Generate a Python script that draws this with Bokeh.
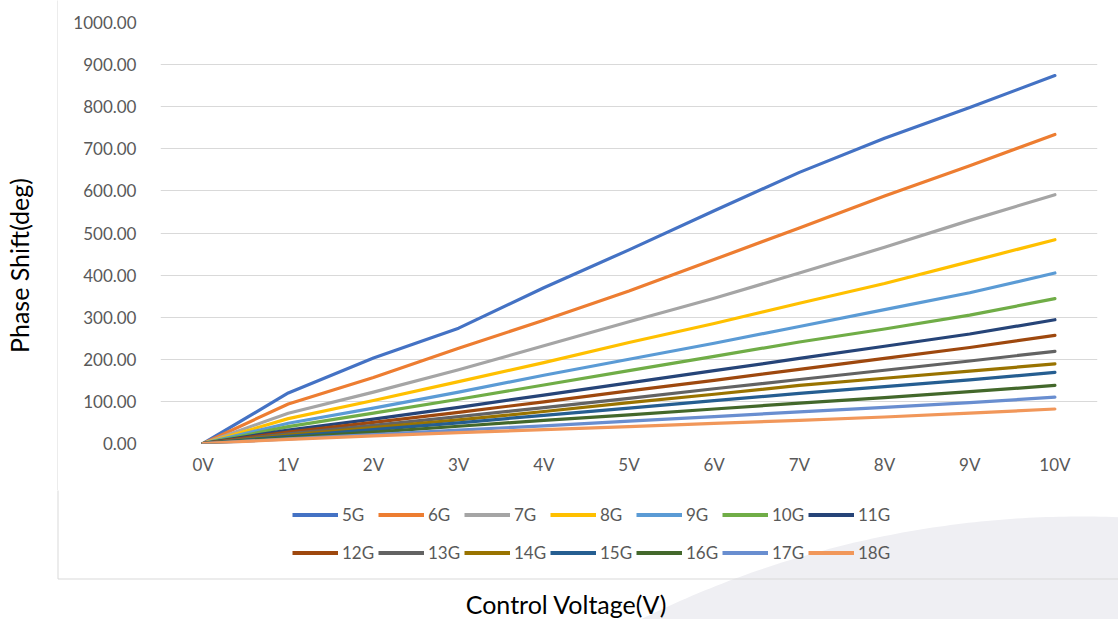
import math
from bokeh.plotting import figure
from bokeh.layouts import row, column
from bokeh.models import (Legend, LegendItem, FactorRange, Range1d, Label,
                          NumeralTickFormatter, FixedTicker)
from bokeh.embed import file_html
from bokeh.resources import INLINE

# ---------------- data ----------------
voltages = ["0V", "1V", "2V", "3V", "4V", "5V", "6V", "7V", "8V", "9V", "10V"]
y_ticks = [0, 100, 200, 300, 400, 500, 600, 700, 800, 900, 1000]
series_names = ["5G", "6G", "7G", "8G", "9G", "10G", "11G",
                "12G", "13G", "14G", "15G", "16G", "17G", "18G"]

values_5G = [0, 120, 203, 274, 370, 460, 553, 644, 725, 798, 874]
values_6G = [0, 94, 157, 226, 293, 362, 437, 512, 588, 660, 734]
values_7G = [0, 72, 122, 175, 232, 289, 345, 405, 466, 530, 591]
values_8G = [0, 59, 102, 147, 192, 240, 285, 333, 380, 432, 484]
values_9G = [0, 48, 84, 122, 162, 200, 238, 278, 318, 358, 405]
values_10G = [0, 40, 72, 105, 139, 173, 207, 241, 272, 305, 344]
values_11G = [0, 32, 58, 86, 115, 144, 173, 202, 231, 260, 294]
values_12G = [0, 27, 50, 74, 99, 125, 150, 176, 202, 228, 257]
values_13G = [0, 23, 43, 64, 85, 107, 130, 152, 174, 196, 219]
values_14G = [0, 20, 38, 56, 76, 97, 117, 138, 155, 172, 189]
values_15G = [0, 17, 33, 49, 67, 84, 102, 119, 135, 151, 169]
values_16G = [0, 14, 27, 41, 55, 68, 82, 96, 109, 123, 138]
values_17G = [0, 11, 21, 32, 42, 53, 64, 75, 86, 97, 110]
values_18G = [0, 10, 18, 26, 33, 40, 48, 55, 63, 72, 82]

series_values = [values_5G, values_6G, values_7G, values_8G, values_9G, values_10G, values_11G,
                 values_12G, values_13G, values_14G, values_15G, values_16G, values_17G, values_18G]
colors = ["#4472C4", "#ED7D31", "#A5A5A5", "#FFC000", "#5B9BD5", "#70AD47", "#264478",
          "#9E480E", "#636363", "#997300", "#255E91", "#43682B", "#698ED0", "#F1975A"]

x_title = "Control Voltage(V)"
y_title = "Phase Shift(deg)"

FONT = "Lato"
GRID = "#D9D9D9"
TOP_H = 490      # height of the upper row (y title strip + plot)
BOT_H = 129      # height of the bottom strip (legend + x title)
PAGE_H = TOP_H + BOT_H

# ---------------- left strip: y title and chart-area border ----------------
# bottom-up pixel coordinates inside the strip
left_fig = figure(width=58, height=TOP_H, x_range=Range1d(0, 58), y_range=Range1d(0, TOP_H),
                  x_axis_type=None, y_axis_type=None,
                  output_backend="svg", toolbar_location=None,
                  min_border_left=0, min_border_right=0, min_border_top=0, min_border_bottom=0)
left_fig.outline_line_color = None
left_fig.grid.visible = False
left_fig.segment(x0=[57.5], y0=[-2], x1=[57.5], y1=[TOP_H + 2], line_color=GRID, line_width=1)
left_fig.add_layout(Label(x=18, y=TOP_H - 265, text=y_title, angle=math.pi / 2,
                          text_align="center", text_baseline="middle",
                          text_font=FONT, text_font_size="25px", text_color="#000000"))

# ---------------- main plot ----------------
p = figure(width=1060, height=TOP_H,
           x_range=FactorRange(*voltages, range_padding=0),
           y_range=Range1d(0, 1000),
           output_backend="svg", toolbar_location=None,
           min_border_left=102, min_border_right=21,
           min_border_top=22, min_border_bottom=47)
p.outline_line_color = None

p.yaxis.ticker = FixedTicker(ticks=y_ticks)
p.yaxis.formatter = NumeralTickFormatter(format="0.00")
for ax in (p.xaxis[0], p.yaxis[0]):
    ax.axis_line_color = None
    ax.major_tick_line_color = None
    ax.minor_tick_line_color = None
    ax.major_tick_out = 0
    ax.major_tick_in = 0
    ax.major_label_text_font = FONT
    ax.major_label_text_font_size = "17px"
    ax.major_label_text_color = "#595959"
p.yaxis.major_label_standoff = 24
p.xaxis.major_label_standoff = 10

p.xgrid.grid_line_color = None
p.ygrid.grid_line_color = GRID
p.ygrid.grid_line_width = 1

for name, vals, col in zip(series_names, series_values, colors):
    p.line(x=voltages, y=vals, line_color=col, line_width=3.2,
           line_join="round", line_cap="round")

# ---------------- bottom strip: legend, x title, decoration ----------------
# page coordinates: x to the right, y downward from the top of the page
q = figure(width=1118, height=BOT_H, x_range=Range1d(0, 1118), y_range=Range1d(PAGE_H, TOP_H),
           x_axis_type=None, y_axis_type=None,
           output_backend="svg", toolbar_location=None,
           min_border_left=0, min_border_right=0, min_border_top=0, min_border_bottom=0)
q.outline_line_color = None
q.grid.visible = False

# soft grey swoosh of the slide background
cx, cy, R = 1080, 1507, 991
arc_x = list(range(620, 1119, 6)) + [1118]
arc_y = [cy - math.sqrt(R * R - (x - cx) ** 2) for x in arc_x]
q.patch(x=arc_x + [1118, 620], y=arc_y + [PAGE_H + 20, PAGE_H + 20], fill_color="#EFEFF3",
        line_color=None)
# chart-area border (left and bottom edges)
q.segment(x0=[57.5, 57.5], y0=[TOP_H - 2, 578.5], x1=[57.5, 1120], y1=[578.5, 578.5],
          line_color=GRID, line_width=1)

# legend keys (renderers kept outside the visible range)
items = []
for name, col in zip(series_names, colors):
    r = q.line(x=[-20, -10], y=[0, 0], line_color=col, line_width=4)
    items.append(LegendItem(label=name, renderers=[r]))

legend = Legend(items=items, orientation="horizontal", ncols=7,
                location=(292, 49.5),
                glyph_width=46, glyph_height=35, label_height=35, label_width=33,
                label_standoff=4, spacing=3, padding=0, margin=0,
                border_line_color=None, background_fill_alpha=0,
                label_text_font=FONT, label_text_font_size="17px",
                label_text_color="#595959")
q.add_layout(legend, "center")

q.add_layout(Label(x=566, y=603, text=x_title,
                   text_align="center", text_baseline="middle",
                   text_font=FONT, text_font_size="25px", text_color="#000000"))

# nesting the strip in its own column keeps its frame from being aligned to the plot frame
layout = column(row(column(left_fig), p), q)

open("out.html", "w").write(file_html(layout, INLINE))
